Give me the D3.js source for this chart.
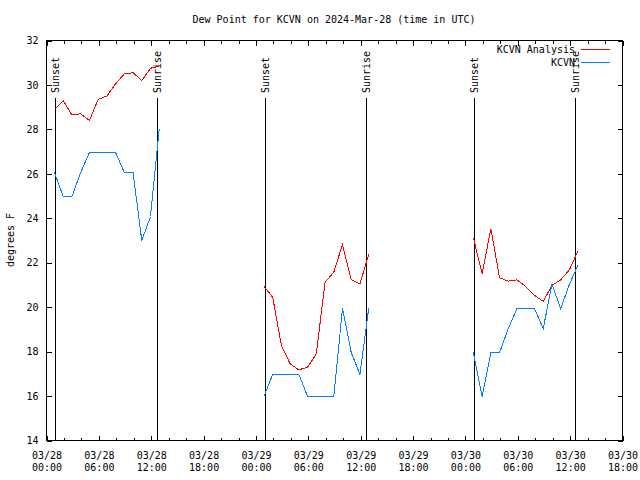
<!DOCTYPE html>
<html><head><meta charset="utf-8">
<script src="https://cdn.jsdelivr.net/npm/d3@7"></script>
<style>
body{margin:0;background:#fff}
svg{display:block}
text{font-family:"DejaVu Sans Mono","Liberation Mono",monospace;font-size:10px;fill:#000}
</style>
</head><body>
<svg id="chart" width="640" height="480"></svg>
<script>
// ---- data ----
const obsTimes = [
  "2024-03-28T00:55Z","2024-03-28T01:55Z","2024-03-28T02:55Z","2024-03-28T03:55Z","2024-03-28T04:55Z",
  "2024-03-28T05:55Z","2024-03-28T06:55Z","2024-03-28T07:55Z","2024-03-28T08:55Z","2024-03-28T09:55Z",
  "2024-03-28T10:55Z","2024-03-28T11:55Z","2024-03-28T12:55Z",
  "2024-03-29T00:55Z","2024-03-29T01:55Z","2024-03-29T02:55Z","2024-03-29T03:55Z","2024-03-29T04:55Z",
  "2024-03-29T05:55Z","2024-03-29T06:55Z","2024-03-29T07:55Z","2024-03-29T08:55Z","2024-03-29T09:55Z",
  "2024-03-29T10:55Z","2024-03-29T11:55Z","2024-03-29T12:55Z",
  "2024-03-30T00:55Z","2024-03-30T01:55Z","2024-03-30T02:55Z","2024-03-30T03:55Z","2024-03-30T04:55Z",
  "2024-03-30T05:55Z","2024-03-30T06:55Z","2024-03-30T07:55Z","2024-03-30T08:55Z","2024-03-30T09:55Z",
  "2024-03-30T10:55Z","2024-03-30T11:55Z","2024-03-30T12:55Z"
];
const analysisValues = [
  28.9, 29.3, 28.65, 28.7, 28.4, 29.35, 29.5, 30.05, 30.5, 30.55, 30.2, 30.75, 30.85,
  20.93, 20.45, 18.28, 17.45, 17.18, 17.3, 17.9, 21.12, 21.57, 22.82, 21.23, 21.05, 22.37,
  23.12, 21.5, 23.53, 21.32, 21.17, 21.23, 20.93, 20.53, 20.26, 20.98, 21.23, 21.68, 22.55
];
const kcvnValues = [
  26.06, 24.98, 24.98, 26.06, 26.96, 26.96, 26.96, 26.96, 26.06, 26.06, 23.0, 24.08, 28.04,
  15.98, 16.98, 16.98, 16.98, 16.98, 15.98, 15.98, 15.98, 15.98, 19.94, 17.96, 16.98, 19.94,
  17.96, 15.98, 17.96, 17.96, 19.04, 19.94, 19.94, 19.94, 19.04, 21.02, 19.94, 21.02, 21.92
];
const sunsetTimes  = ["2024-03-28T01:03Z","2024-03-29T01:04Z","2024-03-30T01:05Z"];
const sunriseTimes = ["2024-03-28T12:44Z","2024-03-29T12:42Z","2024-03-30T12:40Z"];
const xDomain = ["2024-03-28T00:00Z","2024-03-30T18:00Z"];
const yTicks = [14,16,18,20,22,24,26,28,30,32];
const seriesNames = ["KCVN Analysis","KCVN"];
const seriesColors = ["#ff0000","#0080ff"];
const titleText = "Dew Point for KCVN on 2024-Mar-28 (time in UTC)";
const yLabel = "degrees F";

// ---- chart ----
const parse = d3.isoParse;
const L = 46, R = 622, T = 40, B = 440;
const svg = d3.select("#chart");
const x = d3.scaleUtc().domain(xDomain.map(parse)).range([L + 0.5, R + 0.5]);
const y = d3.scaleLinear().domain([14, 32]).range([B + 0.5, T + 0.5]);

const times = obsTimes.map(parse);
function segments(vals) {
  const segs = []; let cur = [];
  times.forEach((t, i) => {
    if (i > 0 && (t - times[i - 1]) > 3 * 3600e3) { segs.push(cur); cur = []; }
    cur.push([t, vals[i]]);
  });
  segs.push(cur);
  return segs;
}

// title
svg.append("text").attr("x", 334).attr("y", 19).attr("dy", "0.35em")
  .attr("text-anchor", "middle").text(titleText);
// y label
svg.append("text").attr("transform", "translate(10,240) rotate(-90)")
  .attr("text-anchor", "middle").attr("dy", "0.35em").text(yLabel);

// axes
const majorX = d3.utcHour.every(6).range(x.domain()[0], new Date(+x.domain()[1] + 1));
const minorX = d3.utcHour.every(2).range(x.domain()[0], new Date(+x.domain()[1] + 1));
const f1 = d3.utcFormat("%m/%d"), f2 = d3.utcFormat("%H:%M");

const gxb = svg.append("g").attr("transform", `translate(0,${B + 0.5})`)
  .call(d3.axisBottom(x).tickValues(majorX).tickSize(-5).tickPadding(11).tickFormat(f1));
gxb.selectAll(".tick text").each(function (d) {
  const t = d3.select(this); t.text(null);
  t.append("tspan").attr("x", 0).text(f1(d));
  t.append("tspan").attr("x", 0).attr("dy", "12").text(f2(d));
});
svg.append("g").attr("transform", `translate(0,${B + 0.5})`)
  .call(d3.axisBottom(x).tickValues(minorX).tickSize(-3).tickFormat(""));
svg.append("g").attr("transform", `translate(0,${T + 0.5})`)
  .call(d3.axisTop(x).tickValues(majorX).tickSize(-5).tickFormat(""));
svg.append("g").attr("transform", `translate(0,${T + 0.5})`)
  .call(d3.axisTop(x).tickValues(minorX).tickSize(-3).tickFormat(""));
svg.append("g").attr("transform", `translate(${L + 0.5},0)`)
  .call(d3.axisLeft(y).tickValues(yTicks).tickSize(-5).tickPadding(8).tickFormat(d3.format("d")));
svg.append("g").attr("transform", `translate(${R + 0.5},0)`)
  .call(d3.axisRight(y).tickValues(yTicks).tickSize(-5).tickFormat(""));
svg.selectAll(".domain").remove();
svg.selectAll(".tick line").attr("stroke", "#000").attr("shape-rendering", "crispEdges");
svg.selectAll(".tick text").attr("font-family", null).attr("font-size", null).attr("fill", "#000");

// border
svg.append("rect").attr("x", L + 0.5).attr("y", T + 0.5).attr("width", R - L).attr("height", B - T)
  .attr("fill", "none").attr("stroke", "#000").attr("shape-rendering", "crispEdges");

// sunset / sunrise lines
const sunEvents = sunsetTimes.map(t => ({t: parse(t), label: "Sunset"}))
  .concat(sunriseTimes.map(t => ({t: parse(t), label: "Sunrise"})));
sunEvents.forEach(ev => {
  const xp = Math.round(x(ev.t) - 0.5) + 0.5;
  svg.append("line").attr("x1", xp).attr("x2", xp).attr("y1", 98).attr("y2", B)
    .attr("stroke", "#000").attr("shape-rendering", "crispEdges");
  svg.append("text").attr("transform", `translate(${xp},93) rotate(-90)`)
    .attr("dy", "0.35em").attr("text-anchor", "start").text(ev.label);
});

// series lines
const line = d3.line().x(d => x(d[0])).y(d => y(d[1]));
[analysisValues, kcvnValues].forEach((vals, si) => {
  segments(vals).forEach(seg => {
    svg.append("path").attr("d", line(seg)).attr("fill", "none")
      .attr("stroke", seriesColors[si]).attr("stroke-width", 1)
      .attr("shape-rendering", "crispEdges");
  });
});

// legend
seriesNames.forEach((n, i) => {
  const yy = 49 + i * 13;
  svg.append("text").attr("x", 575).attr("y", yy).attr("dy", "0.35em")
    .attr("text-anchor", "end").text(n);
  svg.append("line").attr("x1", 581).attr("x2", 610).attr("y1", yy + 0.5).attr("y2", yy + 0.5)
    .attr("stroke", seriesColors[i]).attr("shape-rendering", "crispEdges");
});
</script>
</body></html>
